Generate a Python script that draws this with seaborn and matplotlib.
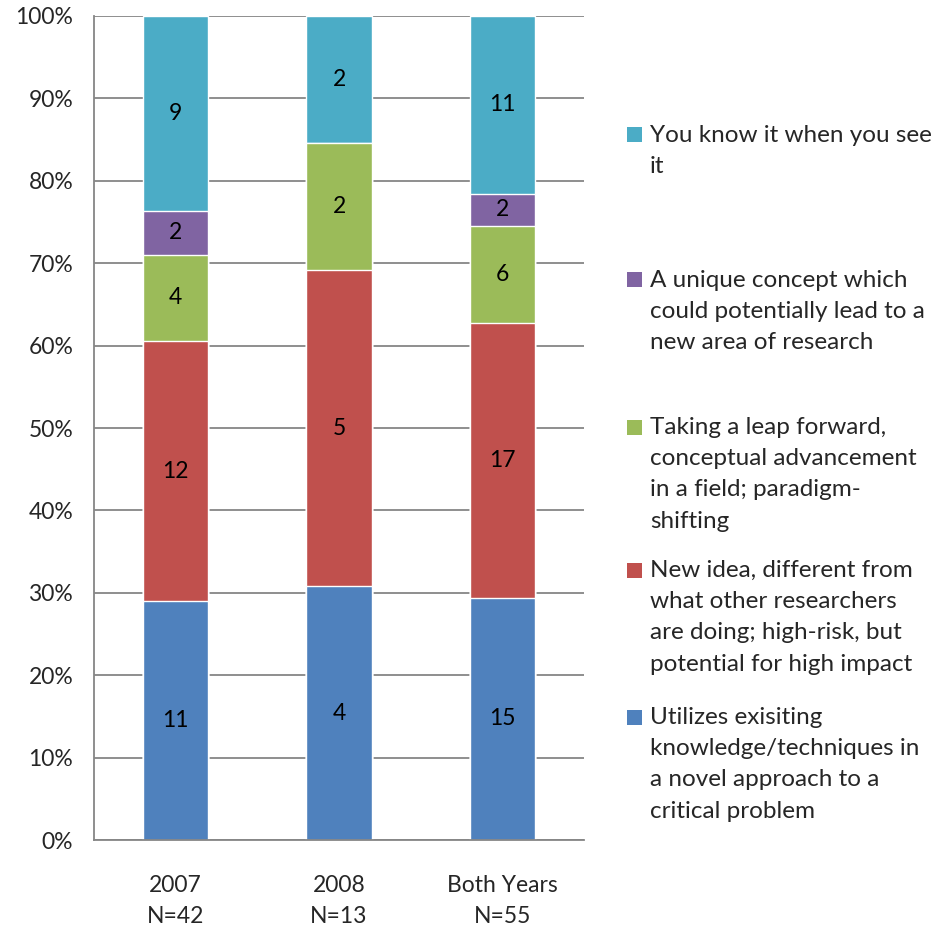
import numpy as np
import pandas as pd
import matplotlib.pyplot as plt
import seaborn as sns
from matplotlib.patches import Rectangle

groups = ['2007\nN=42', '2008\nN=13', 'Both Years\nN=55']
# series listed bottom -> top of the stack
series = ['Utilizes exisiting\nknowledge/techniques in\na novel approach to a\ncritical problem',
          'New idea, different from\nwhat other researchers\nare doing; high-risk, but\npotential for high impact',
          'Taking a leap forward,\nconceptual advancement\nin a field; paradigm-\nshifting',
          'A unique concept which\ncould potentially lead to a\nnew area of research',
          'You know it when you see\nit']
utilizes = [11, 4, 15]
new_idea = [12, 5, 17]
leap = [4, 2, 6]
unique = [2, 0, 2]
know_it = [9, 2, 11]
colors = ['#4F81BD', '#C0504D', '#9BBB59', '#8064A2', '#4BACC6']

counts = np.array([utilizes, new_idea, leap, unique, know_it], dtype=float)
shares = counts / counts.sum(axis=0)
cum = shares.cumsum(axis=0)

sns.set_style('white')
plt.rcParams['font.family'] = ['Lato', 'DejaVu Sans']
fig = plt.figure(figsize=(9.34, 9.30), dpi=100)
ax = fig.add_axes([94 / 934, 90 / 930, 490 / 934, 824 / 930])

grid_c = '#868686'
ax.set_axisbelow(True)
ax.yaxis.grid(True, color=grid_c, linewidth=1.3)

# stacked bars: draw cumulative heights from the top series down
for i in range(len(series) - 1, -1, -1):
    df = pd.DataFrame({'group': groups, 'value': cum[i]})
    sns.barplot(data=df, x='group', y='value', color=colors[i], width=0.4,
                saturation=1, ax=ax, order=groups)

# segment count labels
for i in range(len(series)):
    for j in range(len(groups)):
        if counts[i, j] > 0:
            mid = cum[i, j] - shares[i, j] / 2
            ax.text(j, mid, f'{int(counts[i, j])}', ha='center', va='center',
                    fontsize=16.5, color='black')

ax.set_xlim(-0.5, 2.5)
ax.set_ylim(0, 1)
ax.set_yticks(np.arange(0, 1.01, 0.1))
ax.set_yticklabels([f'{int(round(v * 100))}%' for v in np.arange(0, 1.01, 0.1)], fontsize=16.5)
ax.set_xticks(range(len(groups)))
ax.set_xticklabels(groups, fontsize=16.5, linespacing=1.6)
ax.set_xticks([-0.5, 0.5, 1.5, 2.5], minor=True)
ax.tick_params(axis='x', which='major', length=0, pad=25)
ax.tick_params(axis='x', which='minor', length=7, color=grid_c, width=1.3, direction='out')
ax.tick_params(axis='y', length=7, color=grid_c, width=1.3, direction='out', pad=8)
ax.set_xlabel('')
ax.set_ylabel('')
sns.despine(ax=ax, top=True, right=True)
for s in ['left', 'bottom']:
    ax.spines[s].set_color(grid_c)
    ax.spines[s].set_linewidth(1.3)

# legend, top entry first
tops = [135, 280, 427, 570, 717]
for k, i in enumerate(range(len(series) - 1, -1, -1)):
    yc = 1 - tops[k] / 930
    fig.patches.append(Rectangle((627 / 934, yc - 7.5 / 930), 15 / 934, 15 / 930,
                                 transform=fig.transFigure, facecolor=colors[i],
                                 edgecolor='none'))
    fig.text(650 / 934, yc + 10 / 930, series[i], ha='left', va='top',
             fontsize=17.5, linespacing=1.6)

fig.savefig('out.png', dpi=100)
